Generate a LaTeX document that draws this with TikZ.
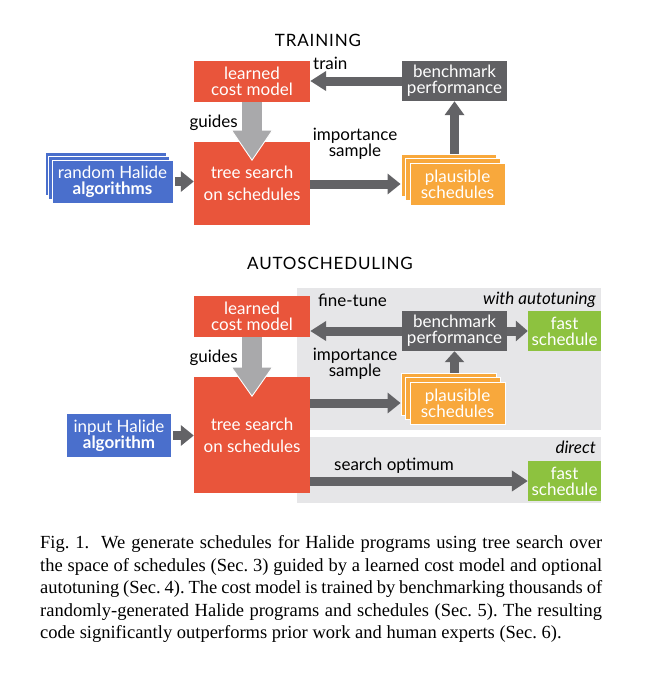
\documentclass[tikz,border=0pt]{standalone}
\usepackage{fontspec}
\setmainfont{Liberation Serif}
\newfontfamily\diagfont{Lato}
\newfontfamily\titlefont[LetterSpace=5]{Lato}
\usetikzlibrary{arrows.meta,calc}
\definecolor{boxred}{HTML}{E9553B}
\definecolor{boxblue}{HTML}{4A6FCC}
\definecolor{boxgray}{HTML}{606063}
\definecolor{arrgray}{HTML}{636366}
\definecolor{guidegray}{HTML}{A9A9AB}
\definecolor{boxorange}{HTML}{F8A83C}
\definecolor{boxgreen}{HTML}{8DC23F}
\definecolor{panelgray}{HTML}{E6E6E8}
\newcommand{\dfont}[2]{\diagfont\fontsize{#1}{#2}\selectfont\lineskiplimit=-100pt\lineskip=0pt}
\tikzset{
  box/.style={draw=none, inner sep=0pt, text=white, align=center, font=\dfont{17}{16}},
  tallbox/.style={box, font=\dfont{17}{22}},
  layer/.style={draw=white, line width=0.8pt, inner sep=0pt, text=white, align=center,
    font=\dfont{17}{16}},
  lbl/.style={inner sep=0pt, font=\dfont{17}{15.5}, align=center},
  ttl/.style={inner sep=0pt, font=\titlefont\fontsize{17}{18}\selectfont},
  flow/.style={draw=arrgray, line width=9pt, -{Triangle[width=20pt,length=13pt]}},
  capline/.style={anchor=base west, inner sep=0pt, font=\fontsize{18.5}{22.5}\selectfont\frenchspacing},
}
\begin{document}
\begin{tikzpicture}[x=1pt,y=-1pt]
\useasboundingbox[fill=white] (0,0) rectangle (645,680);

% ---------------- TRAINING ----------------
\node[ttl] (t1) at (318,40) {TRAINING};
\node[box, fill=boxred, minimum width=116pt, minimum height=41pt] (lcm1) at (252,81.5) {learned\\cost model};
\node[tallbox, fill=boxred, minimum width=116pt, minimum height=83pt] (ts1) at (252,183.5) {tree search\\on schedules};
\node[layer, fill=boxblue, minimum width=121pt, minimum height=43pt] (alga) at (105.5,173.5) {};
\node[layer, fill=boxblue, minimum width=121pt, minimum height=43pt] (algb) at (109,177.5) {};
\node[layer, fill=boxblue, minimum width=121pt, minimum height=43pt] (algc) at (112.5,181.5) {random Halide\\\textbf{algorithms}};
\node[box, fill=boxgray, minimum width=105pt, minimum height=40pt] (bench1) at (454.5,81) {benchmark\\performance};
\node[layer, fill=boxorange, minimum width=95pt, minimum height=42pt] (p1a) at (448.5,175) {};
\node[layer, fill=boxorange, minimum width=95pt, minimum height=42pt] (p1b) at (453,179.5) {};
\node[layer, fill=boxorange, minimum width=95pt, minimum height=42pt] (p1c) at (457.5,184) {plausible\\schedules};

\draw[flow] ([xshift=2pt]algc.east) -- (ts1.west |- algc.east);
\draw[flow] (ts1.east |- p1c.center) -- (p1a.west |- p1c.center);
\draw[flow, line width=8.5pt, -{Triangle[width=19pt,length=14pt]}] (bench1.south |- p1a.north) -- (bench1.south);
\draw[flow, -{Triangle[width=19pt,length=16pt]}] (bench1.west) -- (lcm1.east |- bench1.west);
\path[fill=guidegray, draw=white, line width=0.9pt] ($(lcm1.south)+(-10.5,0)$) -- ++(0,28) -- ++(-10,0)
  -- ($(lcm1.south)+(0,58)$) -- ++(20.5,-30) -- ++(-10,0) -- ++(0,-28);

\node[lbl, anchor=base west] (train) at (313,69) {train};
\node[lbl, anchor=base] (imp1) at (355,156) {importance\\sample};
\node[lbl, anchor=base east] (g1) at (238,127) {guides};

% ---------------- AUTOSCHEDULING ----------------
\node[ttl] (t2) at (330,263) {AUTOSCHEDULING};
\fill[panelgray] (297,288) rectangle (601,430);
\fill[panelgray] (297,437) rectangle (601,503);
\node[box, fill=boxred, minimum width=116pt, minimum height=41pt] (lcm2) at (252,316.5) {learned\\cost model};
\node[tallbox, fill=boxred, minimum width=116pt, minimum height=116pt] (ts2) at (252,435) {tree search\\on schedules};
\node[box, fill=boxblue, minimum width=104pt, minimum height=43pt] (inp) at (119,435.5) {input Halide\\\textbf{algorithm}};
\node[box, fill=boxgray, minimum width=105pt, minimum height=40pt] (bench2) at (454.5,331) {benchmark\\performance};
\node[box, fill=boxgreen, minimum width=73pt, minimum height=40pt] (fast1) at (564.5,331) {fast\\schedule};
\node[layer, fill=boxorange, minimum width=95pt, minimum height=42pt] (p2a) at (448.5,394) {};
\node[layer, fill=boxorange, minimum width=95pt, minimum height=42pt] (p2b) at (453,398.5) {};
\node[layer, fill=boxorange, minimum width=95pt, minimum height=42pt] (p2c) at (457.5,403) {plausible\\schedules};
\node[box, fill=boxgreen, minimum width=73pt, minimum height=40pt] (fast2) at (564.5,481) {fast\\schedule};

\draw[flow] ([xshift=2pt]inp.east) -- (ts2.west |- inp.east);
\draw[flow] (ts2.east |- p2c.center) -- (p2a.west |- p2c.center);
\draw[flow, line width=8.5pt, -{Triangle[width=19pt,length=11pt]}] (bench2.south |- p2a.north) -- (bench2.south);
\draw[flow, -{Triangle[width=19pt,length=16pt]}] (bench2.west) -- (lcm2.east |- bench2.west);
\draw[flow, -{Triangle[width=20pt,length=12pt]}] (bench2.east) -- (fast1.west);
\draw[flow, -{Triangle[width=20pt,length=16pt]}] (ts2.east |- fast2.west) -- (fast2.west);
\path[fill=guidegray, draw=white, line width=0.9pt] ($(lcm2.south)+(-10.5,0)$) -- ++(0,30) -- ++(-10,0)
  -- ($(lcm2.south)+(0,59)$) -- ++(20.5,-29) -- ++(-10,0) -- ++(0,-30);

\node[lbl, anchor=base east] (g2) at (238,362) {guides};
\node[lbl, anchor=base west] (ft) at (318,306) {fine-tune};
\node[lbl, anchor=base east] (wa) at (596,304) {\itshape with autotuning};
\node[lbl, anchor=base] (imp2) at (355,376) {importance\\sample};
\node[lbl, anchor=base east] (dir) at (596,453) {\itshape direct};
\node[lbl, anchor=base west] (so) at (334,470) {search optimum};

% ---------------- caption ----------------
\node[capline] (c1) at (40,548) {\makebox[562pt][s]{Fig. 1.\ \ We generate schedules for Halide programs using tree search over}};
\node[capline] (c2) at (40,571) {\makebox[562pt][s]{the space of schedules (Sec. 3) guided by a learned cost model and optional}};
\node[capline] (c3) at (40,593.5) {\makebox[562pt][s]{autotuning (Sec. 4). The cost model is trained by benchmarking thousands of}};
\node[capline] (c4) at (40,616) {\makebox[562pt][s]{randomly-generated Halide programs and schedules (Sec. 5). The resulting}};
\node[capline] (c5) at (40,638.5) {code significantly outperforms prior work and human experts (Sec. 6).};
\end{tikzpicture}
\end{document}
